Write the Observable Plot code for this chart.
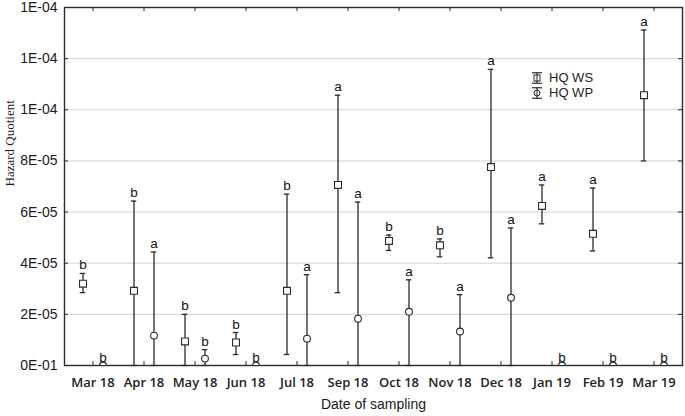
<!DOCTYPE html>
<html><head><meta charset="utf-8">
<script src="https://cdn.jsdelivr.net/npm/d3@7"></script>
<script src="https://cdn.jsdelivr.net/npm/@observablehq/plot@0.6"></script>
<style>
body{margin:0;background:#fff;}
#wrap{position:relative;width:685px;height:416px;}
#legend{position:absolute;left:531px;top:70px;font:13px "Liberation Sans",Arial,sans-serif;color:#1e1e1e;}
#legend .row{display:flex;align-items:center;height:15px;}
#legend span{line-height:15px;}
#legend svg{margin-right:6px;}
</style></head><body>
<div id="wrap"><div id="chart"></div><div id="legend"></div></div>
<script>
const months = ["Mar 18","Apr 18","May 18","Jun 18","Jul 18","Sep 18","Oct 18","Nov 18","Dec 18","Jan 19","Feb 19","Mar 19"];

const wsMean = [3.2e-5, 2.92e-5, 0.94e-5, 0.9e-5, 2.92e-5, 7.06e-5, 4.87e-5, 4.7e-5, 7.76e-5, 6.24e-5, 5.15e-5, 10.57e-5];
const wsLow  = [2.85e-5, 0, 0, 0.43e-5, 0.43e-5, 2.85e-5, 4.5e-5, 4.25e-5, 4.21e-5, 5.54e-5, 4.48e-5, 8.0e-5];
const wsHigh = [3.6e-5, 6.43e-5, 2.0e-5, 1.29e-5, 6.7e-5, 10.57e-5, 5.1e-5, 4.95e-5, 11.58e-5, 7.06e-5, 6.94e-5, 13.12e-5];
const wsGroup = ["b","b","b","b","b","a","b","b","a","a","a","a"];

const wpMean = [0, 1.17e-5, 0.27e-5, 0, 1.05e-5, 1.83e-5, 2.1e-5, 1.33e-5, 2.65e-5, 0, 0, 0];
const wpLow  = [0, 0, 0, 0, 0, 0, 0, 0, 0, 0, 0, 0];
const wpHigh = [0, 4.44e-5, 0.62e-5, 0, 3.55e-5, 6.39e-5, 3.35e-5, 2.77e-5, 5.38e-5, 0, 0, 0];
const wpGroup = ["b","a","b","b","a","a","a","a","a","b","b","b"];

const yTicks = [0, 2e-5, 4e-5, 6e-5, 8e-5, 1e-4, 1.2e-4, 1.4e-4];
const yTickLabels = ["0E-01","2E-05","4E-05","6E-05","8E-05","1E-04","1E-04","1E-04"];
const seriesNames = ["HQ WS","HQ WP"];
const xTitle = "Date of sampling";
const yTitle = "Hazard Quotient";

const ws = months.map((m,i)=>({m, v: wsMean[i], lo: wsLow[i], hi: wsHigh[i], g: wsGroup[i]}));
const wp = months.map((m,i)=>({m, v: wpMean[i], lo: wpLow[i], hi: wpHigh[i], g: wpGroup[i]}));

const ink = "#2b2b2b";
const sans = "'Liberation Sans', Arial, sans-serif";
const OFF = 10;
const capInset = 22.75; // half bandwidth minus half cap width
const fw = 618, fh = 358;

function seriesMarks(data, dx, symbol, extra) {
  const bars = data.filter(d => d.hi > d.lo);
  return [
    Plot.ruleX(bars, {x: "m", y1: "lo", y2: "hi", dx, stroke: ink, strokeWidth: 1.3}),
    Plot.tickY(bars, {x: "m", y: "hi", dx, insetLeft: capInset, insetRight: capInset, stroke: ink, strokeWidth: 1.3}),
    Plot.tickY(bars, {x: "m", y: "lo", dx, insetLeft: capInset, insetRight: capInset, stroke: ink, strokeWidth: 1.3}),
    Plot.dot(data, {x: "m", y: "v", dx, symbol, r: symbol === "square" ? 3.9 : 3.4, stroke: ink, strokeWidth: 1.1, fill: "white", ...extra}),
    Plot.text(data, {x: "m", y: d => d.hi, text: "g", dx, dy: -4, lineAnchor: "bottom", fontSize: 13.5, fontFamily: sans, fill: "#111"})
  ];
}

const chart = Plot.plot({
  width: 685, height: 416,
  marginLeft: 64, marginRight: 3, marginTop: 7, marginBottom: 51,
  style: {background: "white", color: ink},
  x: {type: "band", domain: months, padding: 0},
  y: {domain: [0, 1.4e-4]},
  marks: [
    Plot.gridY(yTicks, {stroke: "#d4d4d4", strokeOpacity: 1}),
    Plot.frame({stroke: ink, strokeWidth: 1.4}),
    Plot.ruleX(months, {x: d => d, insetTop: fh - 4, stroke: ink}),
    Plot.ruleX(months, {x: d => d, insetBottom: fh - 4, stroke: ink}),
    Plot.ruleY(yTicks, {y: d => d, insetRight: fw - 4, stroke: ink}),
    Plot.ruleY(yTicks, {y: d => d, insetLeft: fw - 4, stroke: ink}),
    Plot.axisY(yTicks, {tickSize: 0, tickPadding: 7, label: null, tickFormat: d => yTickLabels[yTicks.indexOf(d)], fontSize: 14, fontFamily: sans, fill: "#1a1a1a"}),
    Plot.axisX({tickSize: 0, tickPadding: 12, label: null, fontSize: 13, fontWeight: 600, fontFamily: "'Open Sans', sans-serif", fill: "#222"}),
    ...seriesMarks(ws, -OFF, "square", {}),
    ...seriesMarks(wp, OFF, "circle", {clip: "frame"}),
    Plot.text([yTitle], {frameAnchor: "left", dx: -55, rotate: -90, fontSize: 13, fontFamily: "'Liberation Serif', 'Times New Roman', serif", fill: "#1a1a1a"}),
    Plot.text([xTitle], {frameAnchor: "bottom", dy: 43, fontSize: 14, fontFamily: sans, fill: "#1a1a1a"})
  ]
});
document.getElementById("chart").appendChild(chart);

// legend
const leg = document.getElementById("legend");
seriesNames.forEach((name, i) => {
  const row = document.createElement("div");
  row.className = "row";
  const shape = i === 0
    ? `<rect x="3" y="3" width="6" height="6" fill="white" stroke="${ink}" stroke-width="1"/><line x1="6" x2="6" y1="3" y2="9" stroke="${ink}"/>`
    : `<circle cx="6" cy="6" r="3" fill="white" stroke="${ink}" stroke-width="1"/><line x1="6" x2="6" y1="3" y2="9" stroke="${ink}"/>`;
  row.innerHTML = `<svg width="12" height="12" viewBox="0 0 12 12"><line x1="6" x2="6" y1="0.5" y2="11.5" stroke="${ink}" stroke-width="1.2"/><line x1="1" x2="11" y1="0.75" y2="0.75" stroke="${ink}" stroke-width="1.2"/><line x1="1" x2="11" y1="11.25" y2="11.25" stroke="${ink}" stroke-width="1.2"/>${shape}</svg><span>${name}</span>`;
  leg.appendChild(row);
});
</script>
</body></html>
